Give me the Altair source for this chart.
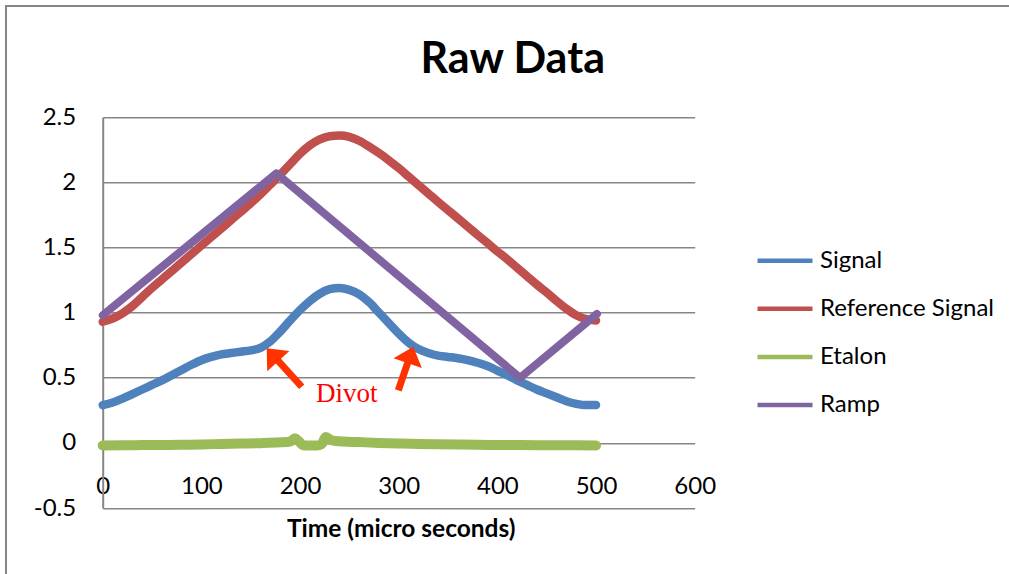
import altair as alt
import pandas as pd

# ---- data -----------------------------------------------------------------
time_us = list(range(0, 501, 10))

signal = [0.29, 0.31, 0.34, 0.375, 0.41, 0.445, 0.48, 0.52, 0.56, 0.60,
          0.635, 0.66, 0.68, 0.69, 0.70, 0.71, 0.73, 0.78, 0.855, 0.94,
          1.02, 1.09, 1.145, 1.18, 1.19, 1.175, 1.14, 1.08, 1.00, 0.92,
          0.84, 0.77, 0.72, 0.69, 0.67, 0.66, 0.65, 0.635, 0.615, 0.59,
          0.555, 0.52, 0.48, 0.445, 0.41, 0.38, 0.35, 0.32, 0.30, 0.29, 0.29]

reference_signal = [0.93, 0.955, 0.995, 1.05, 1.12, 1.19, 1.255, 1.32, 1.385, 1.45,
                    1.515, 1.58, 1.645, 1.71, 1.775, 1.84, 1.91, 1.985, 2.06, 2.14,
                    2.22, 2.285, 2.33, 2.355, 2.36, 2.35, 2.32, 2.275, 2.225, 2.17,
                    2.11, 2.045, 1.98, 1.915, 1.85, 1.787, 1.724, 1.66, 1.597, 1.534,
                    1.47, 1.41, 1.345, 1.28, 1.215, 1.155, 1.09, 1.03, 0.98, 0.95, 0.94]

etalon_time = [0, 20, 40, 60, 80, 100, 120, 140, 160, 180, 190, 195, 199, 203,
               210, 218, 222, 226, 232, 240, 260, 280, 300, 320, 340, 360, 380,
               400, 420, 440, 460, 480, 500]
etalon = [-0.02, -0.018, -0.017, -0.016, -0.014, -0.012, -0.008, -0.005, -0.002,
          0.004, 0.01, 0.035, 0.01, -0.018, -0.02, -0.02, -0.01, 0.045, 0.02,
          0.012, 0.006, 0.0, -0.004, -0.008, -0.011, -0.013, -0.015, -0.016,
          -0.017, -0.018, -0.018, -0.019, -0.02]

ramp_time = [0, 176, 423, 501]
ramp = [0.98, 2.07, 0.50, 0.99]

series_names = ["Signal", "Reference Signal", "Etalon", "Ramp"]
series_colors = ["#4F81BD", "#C0504D", "#9BBB59", "#8064A2"]

x_ticks = [0, 100, 200, 300, 400, 500, 600]
y_ticks = [-0.5, 0, 0.5, 1, 1.5, 2, 2.5]

# "Divot" call-out arrows: tip, neck (end of shaft) and tail, in data units
arrow_tip_t = [166.2, 314.8]
arrow_tip_v = [0.726, 0.738]
arrow_neck_t = [174.4, 310.8]
arrow_neck_v = [0.658, 0.652]
arrow_tail_t = [201.7, 299.6]
arrow_tail_v = [0.431, 0.404]
arrow_angle = [317.6, 19.1]

note_text = ["Divot"]
note_t = [247.3]
note_v = [0.315]

# ---- frames -----------------------------------------------------------------
def series_frame(name, ts, vs):
    return pd.DataFrame({"time": ts, "value": vs, "series": name})

smooth = pd.concat([
    series_frame("Signal", time_us, signal),
    series_frame("Reference Signal", time_us, reference_signal),
    series_frame("Etalon", etalon_time, etalon),
])
ramp_df = series_frame("Ramp", ramp_time, ramp)

shafts = pd.DataFrame({"time": arrow_tail_t, "value": arrow_tail_v,
                       "time_end": arrow_neck_t, "value_end": arrow_neck_v})
heads = pd.DataFrame({"time": arrow_tip_t, "value": arrow_tip_v, "angle": arrow_angle})
notes = pd.DataFrame({"time": note_t, "value": note_v, "label": note_text})
frame_df = pd.DataFrame({"edge": [0]})

# ---- encodings --------------------------------------------------------------
GRAY = "#868686"
FONT = "Lato"

x_axis = alt.Axis(values=x_ticks, offset=-65.3, domain=False, ticks=False, tickSize=0,
                  grid=False, labelPadding=44, labelBaseline="middle", labelFont=FONT,
                  labelFontSize=24, labelColor="#000000", labelFlush=False,
                  labelOverlap=False, labelExpr="datum.value + ''",
                  title="Time (micro seconds)", titleFont=FONT, titleFontSize=24.5,
                  titleFontWeight="bold", titleColor="#000000",
                  titleBaseline="alphabetic", titleAlign="center", titleX=298, titleY=94)
y_axis = alt.Axis(values=y_ticks, domain=True, domainColor=GRAY, domainWidth=2,
                  ticks=False, tickSize=0, grid=True, gridColor=GRAY, gridWidth=1.5,
                  gridOpacity=1, labelPadding=27, labelBaseline="middle", labelFont=FONT,
                  labelFontSize=24, labelColor="#000000", labelFlush=False,
                  labelOverlap=False, labelExpr="datum.value + ''", title=None)

x_enc = alt.X("time:Q", scale=alt.Scale(domain=[0, 600], nice=False, zero=False), axis=x_axis)
y_enc = alt.Y("value:Q", scale=alt.Scale(domain=[-0.5, 2.5], nice=False, zero=False), axis=y_axis)

legend = alt.Legend(title=None, orient="none", legendX=652.3, legendY=120.4, padding=0,
                    symbolType="stroke", symbolSize=3025, symbolStrokeWidth=4.5,
                    labelFont=FONT, labelFontSize=24, labelColor="#000000", labelOffset=5,
                    labelLimit=400, clipHeight=46, rowPadding=2.1)
color_enc = alt.Color("series:N", scale=alt.Scale(domain=series_names, range=series_colors),
                      legend=legend)

# ---- layers -------------------------------------------------------------------
left_edge = alt.Chart(frame_df).mark_rule(color=GRAY, strokeWidth=2).encode(
    x=alt.value(-96.7), y=alt.value(-111.3), y2=alt.value(470))
top_edge = alt.Chart(frame_df).mark_rule(color=GRAY, strokeWidth=2).encode(
    x=alt.value(-97.7), x2=alt.value(920), y=alt.value(-111.3))

def trace(name, width):
    return alt.Chart(smooth).transform_filter(alt.datum.series == name).mark_line(
        interpolate="monotone", strokeWidth=width, strokeCap="round", strokeJoin="round"
    ).encode(x=x_enc, y=y_enc, color=color_enc, order="time:Q")

signal_line = trace("Signal", 8.5)
reference_line = trace("Reference Signal", 8.5)
etalon_line = trace("Etalon", 10)
ramp_line = alt.Chart(ramp_df).mark_line(
    strokeWidth=8, strokeCap="round", strokeJoin="round"
).encode(x=x_enc, y=y_enc, color=color_enc, order="time:Q")

ARROW = "#FF3300"
shaft_layer = alt.Chart(shafts).mark_rule(color=ARROW, strokeWidth=7).encode(
    x=x_enc, y=y_enc, x2="time_end:Q", y2="value_end:Q")
head_layer = alt.Chart(heads).mark_point(
    shape="M0,0L1,1.15L-1,1.15Z", size=900, filled=True, color=ARROW, opacity=1,
    strokeWidth=0
).encode(x=x_enc, y=y_enc, angle=alt.Angle("angle:Q", scale=None))
note_layer = alt.Chart(notes).mark_text(
    font="Liberation Serif", fontSize=27, color="#FF0000", align="center",
    baseline="alphabetic"
).encode(x=x_enc, y=y_enc, text="label:N")

chart = alt.layer(
    left_edge, top_edge, signal_line, reference_line, etalon_line, ramp_line,
    shaft_layer, head_layer, note_layer
).properties(
    width=592, height=390.7,
    padding={"left": 102.7, "top": 117.3, "right": 314.3, "bottom": 66},
    autosize=alt.AutoSizeParams(type="none"),
    background="#FFFFFF",
    title=alt.TitleParams(text="Raw Data", font=FONT, fontSize=43, fontWeight="bold",
                          color="#000000", anchor="middle", frame="group", dx=114,
                          dy=111, baseline="alphabetic", offset=0),
).configure_view(strokeWidth=0)

chart.save("out.html", embed_options={"renderer": "svg", "actions": False})
